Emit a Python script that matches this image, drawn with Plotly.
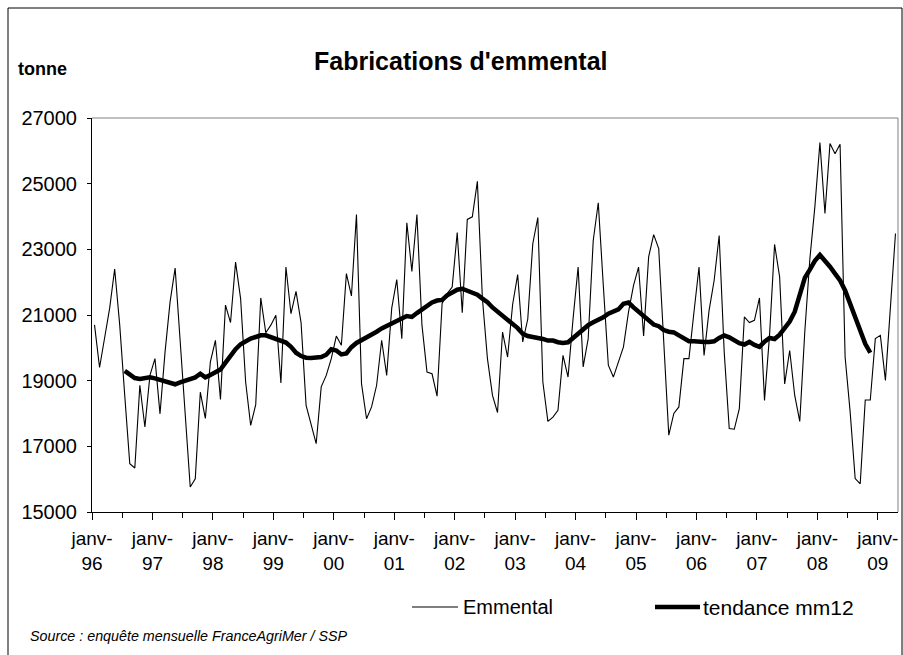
import plotly.graph_objects as go

# ---- data (monthly, janv-96 .. avr-09) ----
years = ["96", "97", "98", "99", "00", "01", "02", "03", "04", "05", "06", "07", "08", "09"]

emmental = [
    20700, 19400, 20300, 21200, 22400, 20700, 18550, 16470, 16340, 18860, 17590, 19160,
    19670, 17990, 19870, 21400, 22430, 20180, 18050, 15760, 16010, 18650, 17850, 19570,
    20230, 18430, 21300, 20770, 22610, 21500, 18960, 17640, 18270, 21520, 20460, 20690,
    20990, 18930, 22460, 21040, 21720, 20770, 18250, 17640, 17080, 18810, 19160, 19670,
    20360, 20080, 22260, 21580, 24060, 18910, 17840, 18200, 18860, 20230, 19160, 21210,
    22080, 20280, 23810, 22330, 24060, 20690, 19260, 19210, 18530, 21350, 21650, 21850,
    23510, 21070, 23910, 23990, 25070, 21500, 19670, 18550, 18030, 20480, 19720, 21320,
    22230, 20180, 20870, 23170, 23970, 18960, 17760, 17890, 18100, 19770, 19110, 20890,
    22460, 19420, 20280, 23270, 24420, 21900, 19470, 19110, 19550, 20030, 21090, 21900,
    22460, 20360, 22770, 23450, 23020, 20300, 17340, 18000, 18200, 19670, 19670, 21090,
    22460, 19770, 21140, 22050, 23420, 19870, 17540, 17520, 18150, 20940, 20770, 20840,
    21520, 18400, 20380, 23150, 22160, 18900, 19920, 18550, 17760, 20500, 22700, 24300,
    26250, 24090, 26220, 25910, 26200, 19720, 18050, 16020, 15860, 18410, 18410, 20280,
    20380, 19010, 21190, 23480,
]

trend_start = 6  # first month with a value of the 12-month trend
tendance_mm12 = [
    19300, 19170, 19080, 19050, 19090, 19100, 19070, 19020, 18970, 18940, 18890, 18950,
    19010, 19060, 19100, 19210, 19100, 19170, 19260, 19340, 19550, 19760, 19960, 20110,
    20200, 20280, 20330, 20380, 20380, 20330, 20270, 20220, 20160, 20030, 19850, 19750,
    19700, 19690, 19700, 19720, 19790, 19960, 19920, 19800, 19830, 20020, 20150, 20230,
    20330, 20420, 20490, 20590, 20660, 20720, 20800, 20890, 20970, 20940, 21060, 21180,
    21290, 21380, 21440, 21460, 21600, 21690, 21770, 21800, 21740, 21690, 21620, 21500,
    21390, 21230, 21110, 20970, 20860, 20720, 20600, 20430, 20360, 20330, 20310, 20270,
    20220, 20220, 20170, 20150, 20170, 20300, 20470, 20590, 20690, 20780, 20840, 20930,
    21040, 21090, 21170, 21340, 21380, 21230, 21100, 20940, 20830, 20710, 20660, 20540,
    20490, 20470, 20380, 20290, 20200, 20200, 20180, 20180, 20180, 20200, 20300, 20380,
    20320, 20230, 20140, 20100, 20180, 20090, 20030, 20190, 20300, 20270, 20400, 20600,
    20800, 21100, 21650, 22130, 22380, 22650, 22830, 22660, 22470, 22260, 22050, 21750,
    21350, 20920, 20520, 20120, 19850,
]

series_names = ["Emmental", "tendance mm12"]
y_ticks = [15000, 17000, 19000, 21000, 23000, 25000, 27000]

# ---- figure ----
x_all = list(range(len(emmental)))
x_tr = list(range(trend_start, trend_start + len(tendance_mm12)))

FONT = "Liberation Sans, Arial, sans-serif"
THIN, THICK = 1.1, 4.5

fig = go.Figure()
fig.add_trace(go.Scatter(x=x_all, y=emmental, mode="lines", name=series_names[0],
                         line=dict(color="black", width=THIN), showlegend=False))
fig.add_trace(go.Scatter(x=x_tr, y=tendance_mm12, mode="lines", name=series_names[1],
                         line=dict(color="black", width=THICK), showlegend=False))

year_pos = [-0.5 + 12 * k for k in range(len(years))]
year_txt = ["janv-<br>" + y for y in years]
x_range = [-0.5, len(emmental) - 0.5]
y_range = [15000, 27000]

fig.update_layout(
    xaxis=dict(
        range=x_range,
        tickmode="array", tickvals=year_pos, ticktext=year_txt,
        ticks="outside", ticklen=7, tickcolor="black", tickwidth=1,
        minor=dict(dtick=6, tick0=-0.5, ticks="outside", ticklen=5, tickcolor="black"),
        showline=True, linecolor="black", linewidth=1,
        showgrid=False, zeroline=False,
        tickfont=dict(family=FONT, size=19, color="black"),
        ticklabelstandoff=2,
    ),
    yaxis=dict(
        range=y_range,
        tickmode="array", tickvals=y_ticks, ticktext=[str(v) for v in y_ticks],
        ticks="outside", ticklen=4, tickcolor="black",
        showline=True, linecolor="black", linewidth=1,
        showgrid=False, zeroline=False,
        tickfont=dict(family=FONT, size=20, color="black"),
        ticklabelstandoff=6,
    ),
    # overlay axes: inner part of the crossing tick marks
    xaxis2=dict(
        overlaying="x", anchor="y", side="bottom", range=x_range, matches="x",
        tickmode="array", tickvals=year_pos, ticks="inside", ticklen=5, tickcolor="black",
        showticklabels=False, showline=False, showgrid=False, zeroline=False,
    ),
    yaxis2=dict(
        overlaying="y", anchor="x", side="left", range=y_range, matches="y",
        tickmode="array", tickvals=y_ticks, ticks="inside", ticklen=7, tickcolor="black",
        showticklabels=False, showline=False, showgrid=False, zeroline=False,
    ),
)

L, R, T, B = 92, 898, 118, 512
W, H = 903, 655
pw, ph = R - L, B - T

def px(x):
    return (x - L) / pw

def py(y):
    return (B - y) / ph

# legend drawn as text + sample lines (Excel-like long samples)
leg_y = py(607)
legend_shapes = [
    dict(type="line", xref="paper", yref="paper", x0=px(412), x1=px(458), y0=leg_y, y1=leg_y,
         line=dict(color="black", width=THIN)),
    dict(type="line", xref="paper", yref="paper", x0=px(655), x1=px(700), y0=leg_y, y1=leg_y,
         line=dict(color="black", width=THICK)),
]
legend_texts = [
    dict(text=series_names[0], x=px(461), y=leg_y, xref="paper", yref="paper",
         xanchor="left", yanchor="middle", showarrow=False,
         font=dict(family=FONT, size=20, color="black")),
    dict(text=series_names[1], x=px(701), y=leg_y, xref="paper", yref="paper",
         xanchor="left", yanchor="middle", showarrow=False,
         font=dict(family=FONT, size=21, color="black")),
]

fig.update_layout(
    width=W, height=H, autosize=False,
    margin=dict(l=L, r=W - R, t=T, b=H - B, pad=0),
    paper_bgcolor="white", plot_bgcolor="white",
    font=dict(family=FONT, color="black"),
    showlegend=False,
    annotations=[
        dict(text="<b>Fabrications d'emmental</b>", x=px(461), y=py(61), xref="paper", yref="paper",
             xanchor="center", yanchor="middle", showarrow=False,
             font=dict(family=FONT, size=25, color="black")),
        dict(text="<b>tonne</b>", x=px(16), y=py(69), xref="paper", yref="paper",
             xanchor="left", yanchor="middle", showarrow=False,
             font=dict(family=FONT, size=18, color="black")),
        dict(text="<i>Source : enquête mensuelle FranceAgriMer / SSP</i>", x=px(28), y=py(636),
             xref="paper", yref="paper", xanchor="left", yanchor="middle", showarrow=False,
             font=dict(family=FONT, size=14.3, color="black")),
    ] + legend_texts,
    shapes=[
        dict(type="line", xref="paper", yref="paper", x0=0, x1=1, y0=1, y1=1,
             line=dict(color="#808080", width=1)),
        dict(type="line", xref="paper", yref="paper", x0=1, x1=1, y0=0, y1=1,
             line=dict(color="#808080", width=1)),
        dict(type="rect", xref="paper", yref="paper", x0=px(8), x1=px(902), y0=py(8), y1=py(670),
             line=dict(color="black", width=1), fillcolor="rgba(0,0,0,0)", layer="below"),
    ] + legend_shapes,
)

fig.write_html(
    "out.html",
    config={"responsive": False, "displayModeBar": False},
    post_script=(
        "document.body.style.margin='0px';"
        "document.body.style.overflow='hidden';"
        "var gd=document.getElementById('{plot_id}');"
        "Plotly.relayout(gd,{width:%d,height:%d});" % (W, H)
    ),
)
